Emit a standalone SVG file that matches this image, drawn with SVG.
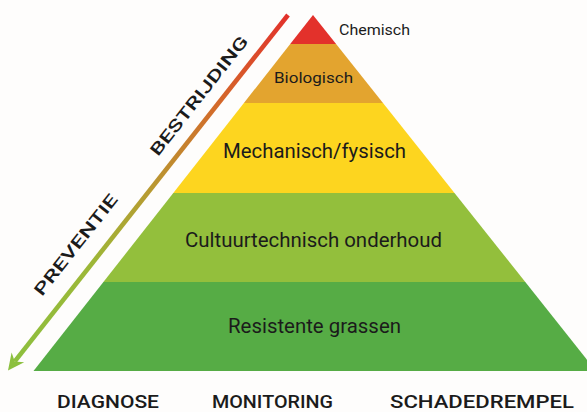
<svg xmlns="http://www.w3.org/2000/svg" width="587" height="412" viewBox="0 0 587 412">
<defs>
<linearGradient id="arrowGrad" gradientUnits="userSpaceOnUse" x1="288" y1="15" x2="8" y2="370">
<stop offset="0" stop-color="#E2312B"/>
<stop offset="0.25" stop-color="#D4692A"/>
<stop offset="0.5" stop-color="#B79B31"/>
<stop offset="0.7" stop-color="#9DB737"/>
<stop offset="1" stop-color="#8CC03F"/>
</linearGradient>
<style>
.lbl{font-family:Roboto,"Liberation Sans",sans-serif;fill:#1b1b1b;}
.py{font-size:21px;font-weight:400;}
.sm{font-size:15.5px;font-weight:400;}
.diag{font-size:16.5px;font-weight:500;}
.bot{font-size:18px;font-weight:500;}
</style>
</defs>
<rect width="587" height="412" fill="#FEFDFC"/>
<g id="pyramid">
<g id="chemisch"><polygon points="313,15 336.1,44 290.2,44" fill="#E3312B"/><text class="lbl sm" x="339" y="35" textLength="71" lengthAdjust="spacingAndGlyphs">Chemisch</text></g>
<g id="biologisch"><polygon points="290.2,44 336.1,44 383,103 243.9,103" fill="#E3A42F"/><text class="lbl sm" x="274" y="83" textLength="79" lengthAdjust="spacingAndGlyphs">Biologisch</text></g>
<g id="mechanisch"><polygon points="243.9,103 383,103 454.5,193 173.3,193" fill="#FDD51F"/><text class="lbl py" x="223" y="158" textLength="183" lengthAdjust="spacingAndGlyphs">Mechanisch/fysisch</text></g>
<g id="cultuurtechnisch"><polygon points="173.3,193 454.5,193 525.3,282 103.4,282" fill="#93BF3C"/><text class="lbl py" x="185" y="247" textLength="257" lengthAdjust="spacingAndGlyphs">Cultuurtechnisch onderhoud</text></g>
<g id="resistente"><polygon points="103.4,282 525.3,282 596,371 33.5,371" fill="#56AC45"/><text class="lbl py" x="228" y="333" textLength="173" lengthAdjust="spacingAndGlyphs">Resistente grassen</text></g>
</g>
<g id="connectors">
<path d="M288,15 L14.8,361.4" stroke="url(#arrowGrad)" stroke-width="4.6" fill="none"/>
<polygon points="8,370.5 11.6,352.5 14.8,361.4 24.2,362.3" fill="#8CC03F"/>
</g>
<g id="axis-labels">
<text class="lbl diag" transform="translate(158,157) rotate(-51.8)" textLength="147" lengthAdjust="spacingAndGlyphs">BESTRIJDING</text>
<text class="lbl diag" transform="translate(42,297) rotate(-51.8)" textLength="124" lengthAdjust="spacingAndGlyphs">PREVENTIE</text>
</g>
<g id="bottom-labels">
<text class="lbl bot" x="57" y="408" textLength="102" lengthAdjust="spacingAndGlyphs">DIAGNOSE</text>
<text class="lbl bot" x="212" y="408" textLength="121" lengthAdjust="spacingAndGlyphs">MONITORING</text>
<text class="lbl bot" x="390" y="408" textLength="184" lengthAdjust="spacingAndGlyphs">SCHADEDREMPEL</text>
</g>
</svg>
